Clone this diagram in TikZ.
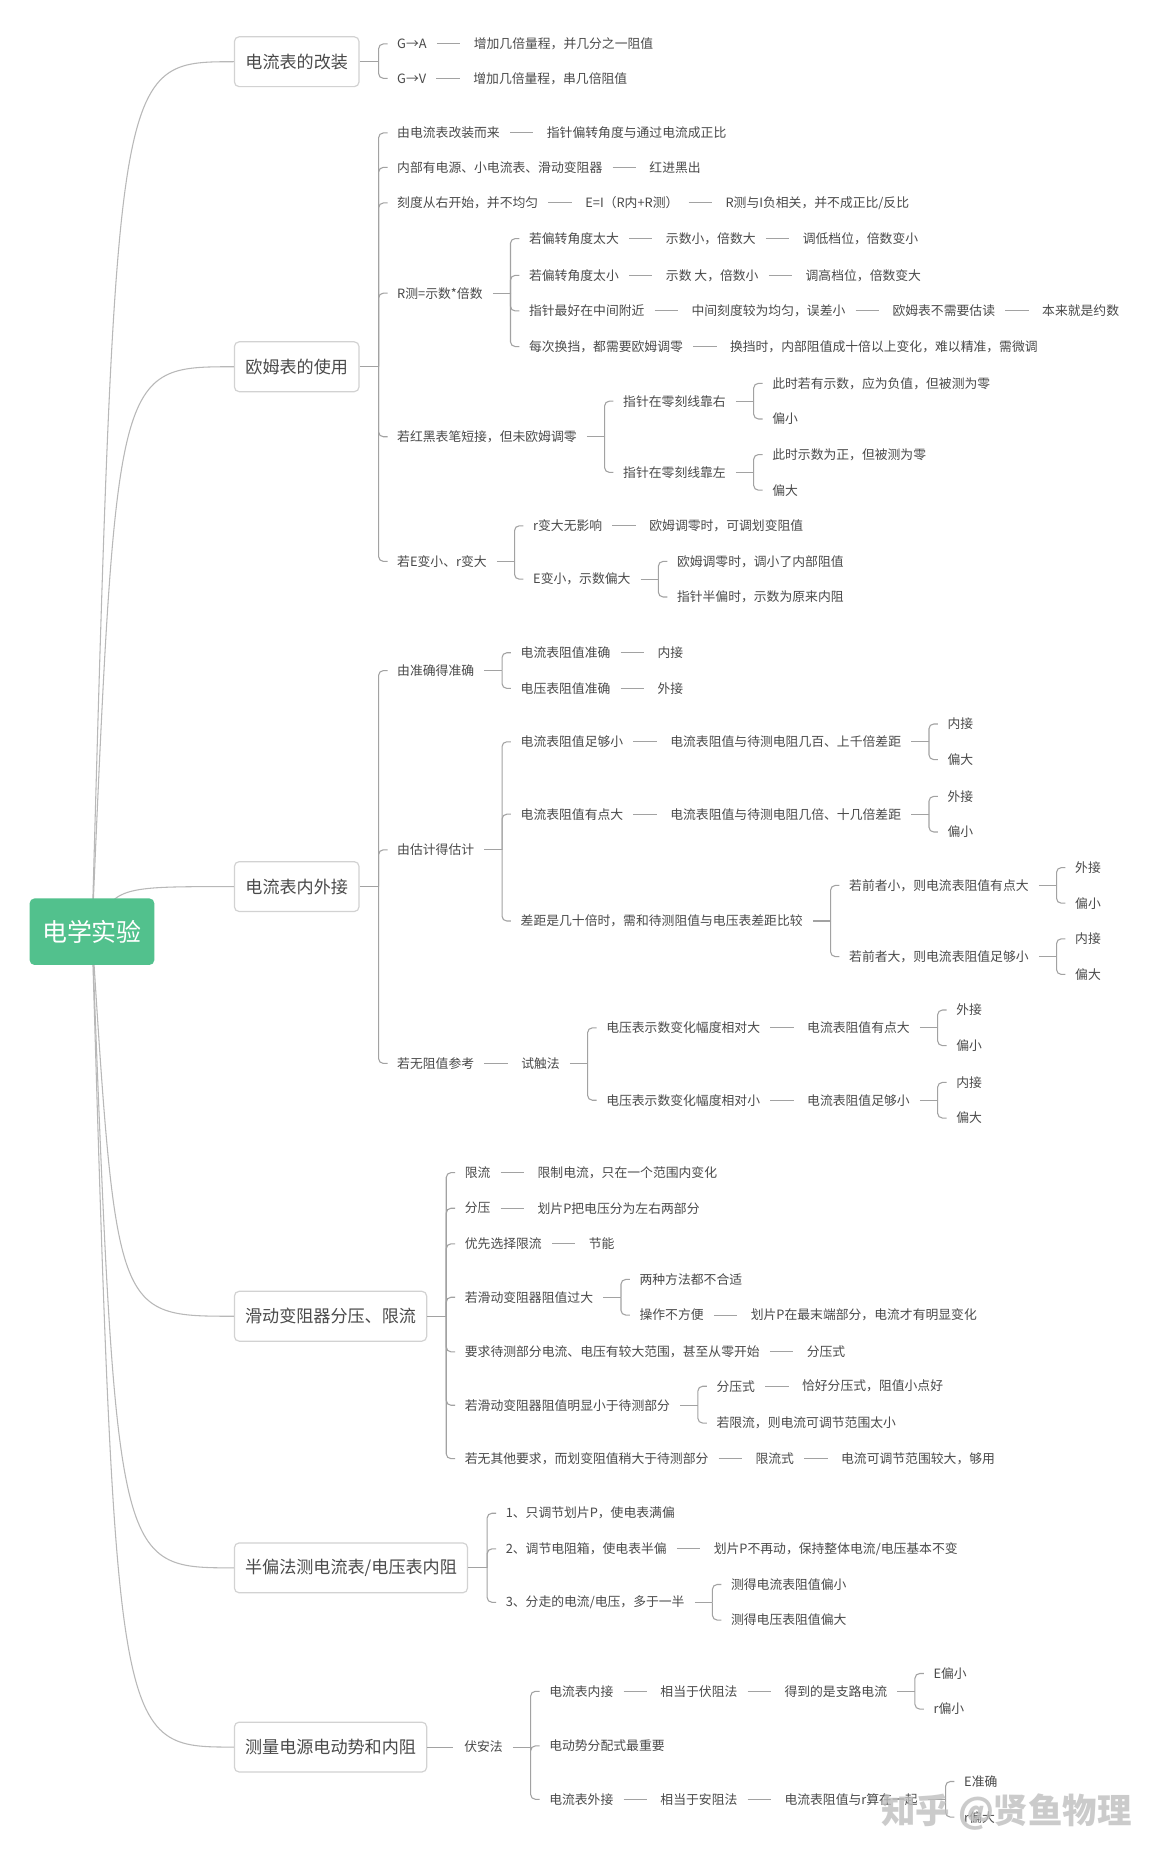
\documentclass[tikz,border=0pt]{standalone}
\usepackage{fontspec}
\setmainfont{Noto Sans CJK SC}
\usetikzlibrary{positioning}
\definecolor{txt}{HTML}{4A4A4A}
\definecolor{lnc}{HTML}{A2A2A2}
\definecolor{crvc}{HTML}{B8B8B8}
\definecolor{bxl}{HTML}{D2D2D2}
\definecolor{rootg}{HTML}{52C18D}
% text parents
\newcommand{\kx}[1]{\coordinate (#1S) at ([xshift=8.4pt]#1.east);
  \coordinate (#1H) at ([xshift=23.3pt]#1.east);
  \coordinate (#1K) at ([xshift=38.8pt]#1.east);}
% box parents
\newcommand{\kxm}[1]{\coordinate (#1S) at (#1.east);
  \coordinate (#1H) at ([xshift=16pt]#1.east);
  \coordinate (#1K) at ([xshift=31.5pt]#1.east);}
\newcommand{\hub}[2]{\draw[ln] (#1S) -- (#1H);
  \foreach \c in {#2} {\draw[ln,rounded corners=4pt] (#1H) |- ([xshift=-8pt]\c.west);}}
\newcommand{\nx}[3]{\node[tx,right=39.3pt of #1] (#2) {#3};
  \draw[ln] ([xshift=8.4pt]#1.east) -- ([xshift=-11.2pt]#2.west);}
\begin{document}
\begin{tikzpicture}[x=1pt,y=-1pt,
  tx/.style={anchor=west,font=\fontsize{10.8pt}{13pt}\selectfont,text=txt,inner xsep=0pt,inner ysep=2pt},
  mbox/.style={anchor=west,draw=bxl,line width=1pt,fill=white,rounded corners=4pt,font=\fontsize{14.4pt}{17pt}\selectfont,text=txt,minimum height=42pt,inner xsep=9pt},
  rootbox/.style={fill=rootg,rounded corners=4pt,text=white,font=\fontsize{21pt}{25pt}\selectfont,minimum width=105pt,minimum height=56pt},
  ln/.style={draw=lnc,line width=0.9pt},
  crv/.style={draw=crvc,line width=0.9pt}]
\fill[white] (0,0) rectangle (979.1,1568);
\useasboundingbox (0,0) rectangle (979.1,1568);

% main boxes
\node[mbox,minimum width=105pt] (m1) at (197,52) {电流表的改装};
\node[mbox,minimum width=105pt] (m2) at (197,309) {欧姆表的使用};
\node[mbox,minimum width=105pt] (m3) at (197,747) {电流表内外接};
\node[mbox,minimum width=160pt] (m4) at (197,1109) {滑动变阻器分压、限流};
\node[mbox,minimum width=195pt] (m5) at (197,1321) {半偏法测电流表/电压表内阻};
\node[mbox,minimum width=161pt] (m6) at (197,1472) {测量电源电动势和内阻};
\coordinate (rc) at (77.5,785);
\foreach \m in {m1,m2,m3,m4,m5,m6} {
  \draw[crv] (rc) .. controls (98,0 |- \m.west) .. (\m.west);
}
\node[rootbox] (r) at (rc) {电学实验};

% ---- branch 1
\kxm{m1}
\node[tx] (a1) at (m1K |- 0,37) {G→A};
\nx{a1}{a1b}{增加几倍量程，并几分之一阻值}
\node[tx] (a2) at (m1K |- 0,66) {G→V};
\nx{a2}{a2b}{增加几倍量程，串几倍阻值}
\hub{m1}{a1,a2}

% ---- branch 2
\kxm{m2}
\node[tx] (b1) at (m2K |- 0,112) {由电流表改装而来};
\nx{b1}{b1a}{指针偏转角度与通过电流成正比}
\node[tx] (b2) at (m2K |- 0,141) {内部有电源、小电流表、滑动变阻器};
\nx{b2}{b2a}{红进黑出}
\node[tx] (b3) at (m2K |- 0,171) {刻度从右开始，并不均匀};
\nx{b3}{b3a}{E=I（R内+R测）}
\nx{b3a}{b3b}{R测与I负相关，并不成正比/反比}
\node[tx] (b4) at (m2K |- 0,247) {R测=示数*倍数};
\node[tx] (b5) at (m2K |- 0,368) {若红黑表笔短接，但未欧姆调零};
\node[tx] (b6) at (m2K |- 0,473) {若E变小、r变大};
\hub{m2}{b1,b2,b3,b4,b5,b6}
\kx{b4}
\node[tx] (c1) at (b4K |- 0,201) {若偏转角度太大};
\nx{c1}{c1a}{示数小，倍数大}
\nx{c1a}{c1b}{调低档位，倍数变小}
\node[tx] (c2) at (b4K |- 0,232) {若偏转角度太小};
\nx{c2}{c2a}{示数 大，倍数小}
\nx{c2a}{c2b}{调高档位，倍数变大}
\node[tx] (c3) at (b4K |- 0,262) {指针最好在中间附近};
\nx{c3}{c3a}{中间刻度较为均匀，误差小}
\nx{c3a}{c3b}{欧姆表不需要估读}
\nx{c3b}{c3c}{本来就是约数}
\node[tx] (c4) at (b4K |- 0,292) {每次换挡，都需要欧姆调零};
\nx{c4}{c4a}{换挡时，内部阻值成十倍以上变化，难以精准，需微调}
\hub{b4}{c1,c2,c3,c4}
\kx{b5}
\node[tx] (d1) at (b5K |- 0,338) {指针在零刻线靠右};
\node[tx] (d2) at (b5K |- 0,398) {指针在零刻线靠左};
\hub{b5}{d1,d2}
\kx{d1}
\node[tx] (d1a) at (d1K |- 0,323) {此时若有示数，应为负值，但被测为零};
\node[tx] (d1b) at (d1K |- 0,353) {偏小};
\hub{d1}{d1a,d1b}
\kx{d2}
\node[tx] (d2a) at (d2K |- 0,383) {此时示数为正，但被测为零};
\node[tx] (d2b) at (d2K |- 0,413) {偏大};
\hub{d2}{d2a,d2b}
\kx{b6}
\node[tx] (e1) at (b6K |- 0,443) {r变大无影响};
\nx{e1}{e1a}{欧姆调零时，可调划变阻值}
\node[tx] (e2) at (b6K |- 0,488) {E变小，示数偏大};
\hub{b6}{e1,e2}
\kx{e2}
\node[tx] (e2a) at (e2K |- 0,473) {欧姆调零时，调小了内部阻值};
\node[tx] (e2b) at (e2K |- 0,503) {指针半偏时，示数为原来内阻};
\hub{e2}{e2a,e2b}

% ---- branch 3
\kxm{m3}
\node[tx] (f1) at (m3K |- 0,565) {由准确得准确};
\node[tx] (f2) at (m3K |- 0,716) {由估计得估计};
\node[tx] (f3) at (m3K |- 0,896) {若无阻值参考};
\hub{m3}{f1,f2,f3}
\kx{f1}
\node[tx] (f1a) at (f1K |- 0,550) {电流表阻值准确};
\nx{f1a}{f1a1}{内接}
\node[tx] (f1b) at (f1K |- 0,580) {电压表阻值准确};
\nx{f1b}{f1b1}{外接}
\hub{f1}{f1a,f1b}
\kx{f2}
\node[tx] (g1) at (f2K |- 0,625) {电流表阻值足够小};
\nx{g1}{g1a}{电流表阻值与待测电阻几百、上千倍差距}
\node[tx] (g2) at (f2K |- 0,686) {电流表阻值有点大};
\nx{g2}{g2a}{电流表阻值与待测电阻几倍、十几倍差距}
\node[tx] (g3) at (f2K |- 0,776) {差距是几十倍时，需和待测阻值与电压表差距比较};
\hub{f2}{g1,g2,g3}
\kx{g1a}
\node[tx] (g1x) at (g1aK |- 0,610) {内接};
\node[tx] (g1y) at (g1aK |- 0,640) {偏大};
\hub{g1a}{g1x,g1y}
\kx{g2a}
\node[tx] (g2x) at (g2aK |- 0,671) {外接};
\node[tx] (g2y) at (g2aK |- 0,701) {偏小};
\hub{g2a}{g2x,g2y}
\kx{g3}
\node[tx] (h1) at (g3K |- 0,746) {若前者小，则电流表阻值有点大};
\node[tx] (h2) at (g3K |- 0,806) {若前者大，则电流表阻值足够小};
\hub{g3}{h1,h2}
\kx{h1}
\node[tx] (h1x) at (h1K |- 0,731) {外接};
\node[tx] (h1y) at (h1K |- 0,761) {偏小};
\hub{h1}{h1x,h1y}
\kx{h2}
\node[tx] (h2x) at (h2K |- 0,791) {内接};
\node[tx] (h2y) at (h2K |- 0,821) {偏大};
\hub{h2}{h2x,h2y}
\nx{f3}{f3a}{试触法}
\kx{f3a}
\node[tx] (i1) at (f3aK |- 0,866) {电压表示数变化幅度相对大};
\nx{i1}{i1a}{电流表阻值有点大}
\node[tx] (i2) at (f3aK |- 0,927) {电压表示数变化幅度相对小};
\nx{i2}{i2a}{电流表阻值足够小}
\hub{f3a}{i1,i2}
\kx{i1a}
\node[tx] (i1x) at (i1aK |- 0,851) {外接};
\node[tx] (i1y) at (i1aK |- 0,881) {偏小};
\hub{i1a}{i1x,i1y}
\kx{i2a}
\node[tx] (i2x) at (i2aK |- 0,912) {内接};
\node[tx] (i2y) at (i2aK |- 0,942) {偏大};
\hub{i2a}{i2x,i2y}

% ---- branch 4
\kxm{m4}
\node[tx] (j1) at (m4K |- 0,988) {限流};
\nx{j1}{j1a}{限制电流，只在一个范围内变化}
\node[tx] (j2) at (m4K |- 0,1018) {分压};
\nx{j2}{j2a}{划片P把电压分为左右两部分}
\node[tx] (j3) at (m4K |- 0,1048) {优先选择限流};
\nx{j3}{j3a}{节能}
\node[tx] (j4) at (m4K |- 0,1093) {若滑动变阻器阻值过大};
\node[tx] (j5) at (m4K |- 0,1139) {要求待测部分电流、电压有较大范围，甚至从零开始};
\nx{j5}{j5a}{分压式}
\node[tx] (j6) at (m4K |- 0,1184) {若滑动变阻器阻值明显小于待测部分};
\node[tx] (j7) at (m4K |- 0,1229) {若无其他要求，而划变阻值稍大于待测部分};
\nx{j7}{j7a}{限流式}
\nx{j7a}{j7b}{电流可调节范围较大，够用}
\hub{m4}{j1,j2,j3,j4,j5,j6,j7}
\kx{j4}
\node[tx] (k1) at (j4K |- 0,1078) {两种方法都不合适};
\node[tx] (k2) at (j4K |- 0,1108) {操作不方便};
\nx{k2}{k2a}{划片P在最末端部分，电流才有明显变化}
\hub{j4}{k1,k2}
\kx{j6}
\node[tx] (l1) at (j6K |- 0,1168) {分压式};
\nx{l1}{l1a}{恰好分压式，阻值小点好}
\node[tx] (l2) at (j6K |- 0,1199) {若限流，则电流可调节范围太小};
\hub{j6}{l1,l2}

% ---- branch 5
\kxm{m5}
\node[tx] (n1) at (m5K |- 0,1275) {1、只调节划片P，使电表满偏};
\node[tx] (n2) at (m5K |- 0,1305) {2、调节电阻箱，使电表半偏};
\nx{n2}{n2a}{划片P不再动，保持整体电流/电压基本不变}
\node[tx] (n3) at (m5K |- 0,1350) {3、分走的电流/电压，多于一半};
\hub{m5}{n1,n2,n3}
\kx{n3}
\node[tx] (n3x) at (n3K |- 0,1335) {测得电流表阻值偏小};
\node[tx] (n3y) at (n3K |- 0,1365) {测得电压表阻值偏大};
\hub{n3}{n3x,n3y}

% ---- branch 6
\node[tx,right=31pt of m6] (o) {伏安法};
\draw[ln] (m6.east) -- ([xshift=-9pt]o.west);
\kx{o}
\node[tx] (p1) at (oK |- 0,1425) {电流表内接};
\nx{p1}{p1a}{相当于伏阻法}
\nx{p1a}{p1b}{得到的是支路电流}
\node[tx] (p2) at (oK |- 0,1471) {电动势分配式最重要};
\node[tx] (p3) at (oK |- 0,1516) {电流表外接};
\nx{p3}{p3a}{相当于安阻法}
\nx{p3a}{p3b}{电流表阻值与r算在一起}
\hub{o}{p1,p2,p3}
\kx{p1b}
\node[tx] (q1) at (p1bK |- 0,1410) {E偏小};
\node[tx] (q2) at (p1bK |- 0,1440) {r偏小};
\hub{p1b}{q1,q2}
\kx{p3b}
\node[tx] (s1) at (p3bK |- 0,1501) {E准确};
\node[tx] (s2) at (p3bK |- 0,1531) {r偏大};
\hub{p3b}{s1,s2}

% watermark
\node[text=gray!50,opacity=0.8,font=\fontsize{29pt}{33pt}\selectfont\bfseries] (wm) at (848,1527) {知乎 @贤鱼物理};
\end{tikzpicture}
\end{document}
